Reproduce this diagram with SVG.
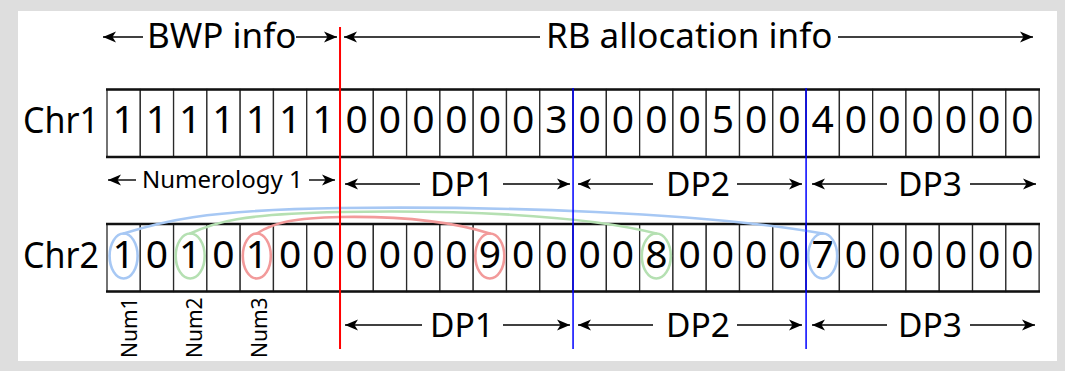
<svg xmlns="http://www.w3.org/2000/svg" width="1065" height="371" viewBox="0 0 1065 371">
  <style>
    text { font-family: "Noto Sans", "Open Sans", sans-serif; fill: #000; }
    .cell rect { fill: #fff; stroke: #2a2a2a; stroke-width: 1.3; }
    .cell text { font-size: 39px; text-anchor: middle; }
    .edge { stroke: #111; stroke-width: 2.6; }
    .chr { font-size: 36px; }
    .hdr { font-size: 35px; }
    .dp { font-size: 33.5px; }
    .numer { font-size: 24px; }
    .numlbl { font-size: 21px; }
    .arr { stroke: #000; stroke-width: 1.4; fill: none; marker-end: url(#head); }
    .link { fill: none; stroke-width: 2.6; stroke-linecap: round; }
    .blue { stroke: #a7c8f4; }
    .green { stroke: #b5e0b2; }
    .red { stroke: #f29a9a; }
  </style>
  <defs>
    <marker id="head" viewBox="-1 -7 16 14" markerWidth="16" markerHeight="14" refX="13" refY="0" orient="auto" markerUnits="userSpaceOnUse">
      <path d="M0,-5.5 L13,0 L0,5.5 L3.5,0 Z" fill="#000"/>
    </marker>
  </defs>

  <!-- frame -->
  <rect x="0" y="0" width="1065" height="371" fill="#dedede"/>
  <rect x="18" y="11" width="1039" height="350" fill="#fff"/>

  <!-- header -->
  <g id="header">
    <text class="hdr" x="147" y="48">BWP info</text>
    <text class="hdr" x="546" y="48">RB allocation info</text>
  </g>

  <!-- row labels -->
  <g id="label-chr1"><text class="chr" x="23" y="133" textLength="76" lengthAdjust="spacingAndGlyphs">Chr1</text></g>
  <g id="label-chr2"><text class="chr" x="23" y="268" textLength="76" lengthAdjust="spacingAndGlyphs">Chr2</text></g>

  <!-- chromosome 1 -->
  <g id="chr1">
    <g class="cell" id="chr1-c0"><rect x="107" y="89.5" width="33.29" height="67.5"/><text x="123.6" y="133">1</text></g>
    <g class="cell" id="chr1-c1"><rect x="140.29" y="89.5" width="33.29" height="67.5"/><text x="156.9" y="133">1</text></g>
    <g class="cell" id="chr1-c2"><rect x="173.58" y="89.5" width="33.29" height="67.5"/><text x="190.2" y="133">1</text></g>
    <g class="cell" id="chr1-c3"><rect x="206.87" y="89.5" width="33.29" height="67.5"/><text x="223.5" y="133">1</text></g>
    <g class="cell" id="chr1-c4"><rect x="240.16" y="89.5" width="33.29" height="67.5"/><text x="256.8" y="133">1</text></g>
    <g class="cell" id="chr1-c5"><rect x="273.45" y="89.5" width="33.29" height="67.5"/><text x="290.1" y="133">1</text></g>
    <g class="cell" id="chr1-c6"><rect x="306.74" y="89.5" width="33.29" height="67.5"/><text x="323.4" y="133">1</text></g>
    <g class="cell" id="chr1-c7"><rect x="340.03" y="89.5" width="33.29" height="67.5"/><text x="356.7" y="133">0</text></g>
    <g class="cell" id="chr1-c8"><rect x="373.32" y="89.5" width="33.29" height="67.5"/><text x="390.0" y="133">0</text></g>
    <g class="cell" id="chr1-c9"><rect x="406.61" y="89.5" width="33.29" height="67.5"/><text x="423.3" y="133">0</text></g>
    <g class="cell" id="chr1-c10"><rect x="439.9" y="89.5" width="33.29" height="67.5"/><text x="456.5" y="133">0</text></g>
    <g class="cell" id="chr1-c11"><rect x="473.19" y="89.5" width="33.29" height="67.5"/><text x="489.8" y="133">0</text></g>
    <g class="cell" id="chr1-c12"><rect x="506.48" y="89.5" width="33.29" height="67.5"/><text x="523.1" y="133">0</text></g>
    <g class="cell" id="chr1-c13"><rect x="539.77" y="89.5" width="33.29" height="67.5"/><text x="556.4" y="133">3</text></g>
    <g class="cell" id="chr1-c14"><rect x="573.06" y="89.5" width="33.29" height="67.5"/><text x="589.7" y="133">0</text></g>
    <g class="cell" id="chr1-c15"><rect x="606.35" y="89.5" width="33.29" height="67.5"/><text x="623.0" y="133">0</text></g>
    <g class="cell" id="chr1-c16"><rect x="639.64" y="89.5" width="33.29" height="67.5"/><text x="656.3" y="133">0</text></g>
    <g class="cell" id="chr1-c17"><rect x="672.93" y="89.5" width="33.29" height="67.5"/><text x="689.6" y="133">0</text></g>
    <g class="cell" id="chr1-c18"><rect x="706.22" y="89.5" width="33.29" height="67.5"/><text x="722.9" y="133">5</text></g>
    <g class="cell" id="chr1-c19"><rect x="739.51" y="89.5" width="33.29" height="67.5"/><text x="756.2" y="133">0</text></g>
    <g class="cell" id="chr1-c20"><rect x="772.8" y="89.5" width="33.29" height="67.5"/><text x="789.4" y="133">0</text></g>
    <g class="cell" id="chr1-c21"><rect x="806.09" y="89.5" width="33.29" height="67.5"/><text x="822.7" y="133">4</text></g>
    <g class="cell" id="chr1-c22"><rect x="839.38" y="89.5" width="33.29" height="67.5"/><text x="856.0" y="133">0</text></g>
    <g class="cell" id="chr1-c23"><rect x="872.67" y="89.5" width="33.29" height="67.5"/><text x="889.3" y="133">0</text></g>
    <g class="cell" id="chr1-c24"><rect x="905.96" y="89.5" width="33.29" height="67.5"/><text x="922.6" y="133">0</text></g>
    <g class="cell" id="chr1-c25"><rect x="939.25" y="89.5" width="33.29" height="67.5"/><text x="955.9" y="133">0</text></g>
    <g class="cell" id="chr1-c26"><rect x="972.54" y="89.5" width="33.29" height="67.5"/><text x="989.2" y="133">0</text></g>
    <g class="cell" id="chr1-c27"><rect x="1005.83" y="89.5" width="33.29" height="67.5"/><text x="1022.5" y="133">0</text></g>
    <line class="edge" x1="106" y1="89.5" x2="1040" y2="89.5"/>
    <line class="edge" x1="106" y1="157" x2="1040" y2="157"/>
  </g>

  <!-- chromosome 2 -->
  <g id="chr2">
    <g class="cell" id="chr2-c0"><rect x="107" y="224" width="33.29" height="67.5"/><text x="123.6" y="268">1</text></g>
    <g class="cell" id="chr2-c1"><rect x="140.29" y="224" width="33.29" height="67.5"/><text x="156.9" y="268">0</text></g>
    <g class="cell" id="chr2-c2"><rect x="173.58" y="224" width="33.29" height="67.5"/><text x="190.2" y="268">1</text></g>
    <g class="cell" id="chr2-c3"><rect x="206.87" y="224" width="33.29" height="67.5"/><text x="223.5" y="268">0</text></g>
    <g class="cell" id="chr2-c4"><rect x="240.16" y="224" width="33.29" height="67.5"/><text x="256.8" y="268">1</text></g>
    <g class="cell" id="chr2-c5"><rect x="273.45" y="224" width="33.29" height="67.5"/><text x="290.1" y="268">0</text></g>
    <g class="cell" id="chr2-c6"><rect x="306.74" y="224" width="33.29" height="67.5"/><text x="323.4" y="268">0</text></g>
    <g class="cell" id="chr2-c7"><rect x="340.03" y="224" width="33.29" height="67.5"/><text x="356.7" y="268">0</text></g>
    <g class="cell" id="chr2-c8"><rect x="373.32" y="224" width="33.29" height="67.5"/><text x="390.0" y="268">0</text></g>
    <g class="cell" id="chr2-c9"><rect x="406.61" y="224" width="33.29" height="67.5"/><text x="423.3" y="268">0</text></g>
    <g class="cell" id="chr2-c10"><rect x="439.9" y="224" width="33.29" height="67.5"/><text x="456.5" y="268">0</text></g>
    <g class="cell" id="chr2-c11"><rect x="473.19" y="224" width="33.29" height="67.5"/><text x="489.8" y="268">9</text></g>
    <g class="cell" id="chr2-c12"><rect x="506.48" y="224" width="33.29" height="67.5"/><text x="523.1" y="268">0</text></g>
    <g class="cell" id="chr2-c13"><rect x="539.77" y="224" width="33.29" height="67.5"/><text x="556.4" y="268">0</text></g>
    <g class="cell" id="chr2-c14"><rect x="573.06" y="224" width="33.29" height="67.5"/><text x="589.7" y="268">0</text></g>
    <g class="cell" id="chr2-c15"><rect x="606.35" y="224" width="33.29" height="67.5"/><text x="623.0" y="268">0</text></g>
    <g class="cell" id="chr2-c16"><rect x="639.64" y="224" width="33.29" height="67.5"/><text x="656.3" y="268">8</text></g>
    <g class="cell" id="chr2-c17"><rect x="672.93" y="224" width="33.29" height="67.5"/><text x="689.6" y="268">0</text></g>
    <g class="cell" id="chr2-c18"><rect x="706.22" y="224" width="33.29" height="67.5"/><text x="722.9" y="268">0</text></g>
    <g class="cell" id="chr2-c19"><rect x="739.51" y="224" width="33.29" height="67.5"/><text x="756.2" y="268">0</text></g>
    <g class="cell" id="chr2-c20"><rect x="772.8" y="224" width="33.29" height="67.5"/><text x="789.4" y="268">0</text></g>
    <g class="cell" id="chr2-c21"><rect x="806.09" y="224" width="33.29" height="67.5"/><text x="822.7" y="268">7</text></g>
    <g class="cell" id="chr2-c22"><rect x="839.38" y="224" width="33.29" height="67.5"/><text x="856.0" y="268">0</text></g>
    <g class="cell" id="chr2-c23"><rect x="872.67" y="224" width="33.29" height="67.5"/><text x="889.3" y="268">0</text></g>
    <g class="cell" id="chr2-c24"><rect x="905.96" y="224" width="33.29" height="67.5"/><text x="922.6" y="268">0</text></g>
    <g class="cell" id="chr2-c25"><rect x="939.25" y="224" width="33.29" height="67.5"/><text x="955.9" y="268">0</text></g>
    <g class="cell" id="chr2-c26"><rect x="972.54" y="224" width="33.29" height="67.5"/><text x="989.2" y="268">0</text></g>
    <g class="cell" id="chr2-c27"><rect x="1005.83" y="224" width="33.29" height="67.5"/><text x="1022.5" y="268">0</text></g>
    <line class="edge" x1="106" y1="224" x2="1040" y2="224"/>
    <line class="edge" x1="106" y1="291.5" x2="1040" y2="291.5"/>
  </g>

  <!-- span labels -->
  <g id="span-labels">
    <text class="numer" x="142" y="188">Numerology 1</text>
    <text class="dp" x="430" y="195.5">DP1</text>
    <text class="dp" x="666" y="195.5">DP2</text>
    <text class="dp" x="898" y="195.5">DP3</text>
    <text class="dp" x="430" y="336.5">DP1</text>
    <text class="dp" x="666" y="336.5">DP2</text>
    <text class="dp" x="898" y="336.5">DP3</text>
  </g>

  <!-- numerology markers -->
  <g id="num1"><text class="numlbl" transform="translate(137,358) rotate(-90)">Num1</text></g>
  <g id="num2"><text class="numlbl" transform="translate(202,358) rotate(-90)">Num2</text></g>
  <g id="num3"><text class="numlbl" transform="translate(267,358) rotate(-90)">Num3</text></g>

  <!-- connectors -->
  <g id="connectors">
    <!-- span arrows -->
    <line class="arr" x1="143" y1="37" x2="103" y2="37"/>
    <line class="arr" x1="296" y1="37" x2="337" y2="37"/>
    <line class="arr" x1="540" y1="37" x2="344" y2="37"/>
    <line class="arr" x1="838" y1="37" x2="1033" y2="37"/>

    <line class="arr" x1="136" y1="180" x2="108" y2="180"/>
    <line class="arr" x1="309" y1="180" x2="335" y2="180"/>
    <line class="arr" x1="420" y1="184" x2="345" y2="184"/>
    <line class="arr" x1="503" y1="184" x2="570" y2="184"/>
    <line class="arr" x1="653" y1="184" x2="578" y2="184"/>
    <line class="arr" x1="737" y1="184" x2="802" y2="184"/>
    <line class="arr" x1="887" y1="184" x2="812" y2="184"/>
    <line class="arr" x1="970" y1="184" x2="1036" y2="184"/>

    <line class="arr" x1="422" y1="325" x2="345" y2="325"/>
    <line class="arr" x1="503" y1="325" x2="570" y2="325"/>
    <line class="arr" x1="653" y1="325" x2="578" y2="325"/>
    <line class="arr" x1="737" y1="325" x2="802" y2="325"/>
    <line class="arr" x1="887" y1="325" x2="812" y2="325"/>
    <line class="arr" x1="970" y1="325" x2="1035" y2="325"/>

    <!-- gene links: Num1 -> 7, Num2 -> 8, Num3 -> 9 -->
    <g class="link blue">
      <ellipse cx="123.6" cy="256" rx="14" ry="22.5"/>
      <ellipse cx="822.7" cy="256" rx="14.5" ry="22.5"/>
      <path d="M123.6,233.5 C160,222 200,210 340,208 C500,206 700,212 822.7,233.5"/>
    </g>
    <g class="link green">
      <ellipse cx="190.2" cy="256" rx="14.5" ry="22.5"/>
      <ellipse cx="656.3" cy="256" rx="14.5" ry="22.5"/>
      <path d="M190.2,233.5 C215,222 240,214 340,212 C450,210 580,214 656.3,233.5"/>
    </g>
    <g class="link red">
      <ellipse cx="256.8" cy="256" rx="14" ry="22.5"/>
      <ellipse cx="489.8" cy="256" rx="14.5" ry="22.5"/>
      <path d="M256.8,233.5 C275,222 295,218 340,217 C400,216 450,221 489.8,233.5"/>
    </g>

    <!-- boundaries -->
    <line x1="340.03" y1="27" x2="340.03" y2="349" stroke="#ff0000" stroke-width="2"/>
    <line x1="573.06" y1="88" x2="573.06" y2="349" stroke="#0000ff" stroke-width="1.5"/>
    <line x1="806.09" y1="88" x2="806.09" y2="349" stroke="#0000ff" stroke-width="1.5"/>
  </g>
</svg>
